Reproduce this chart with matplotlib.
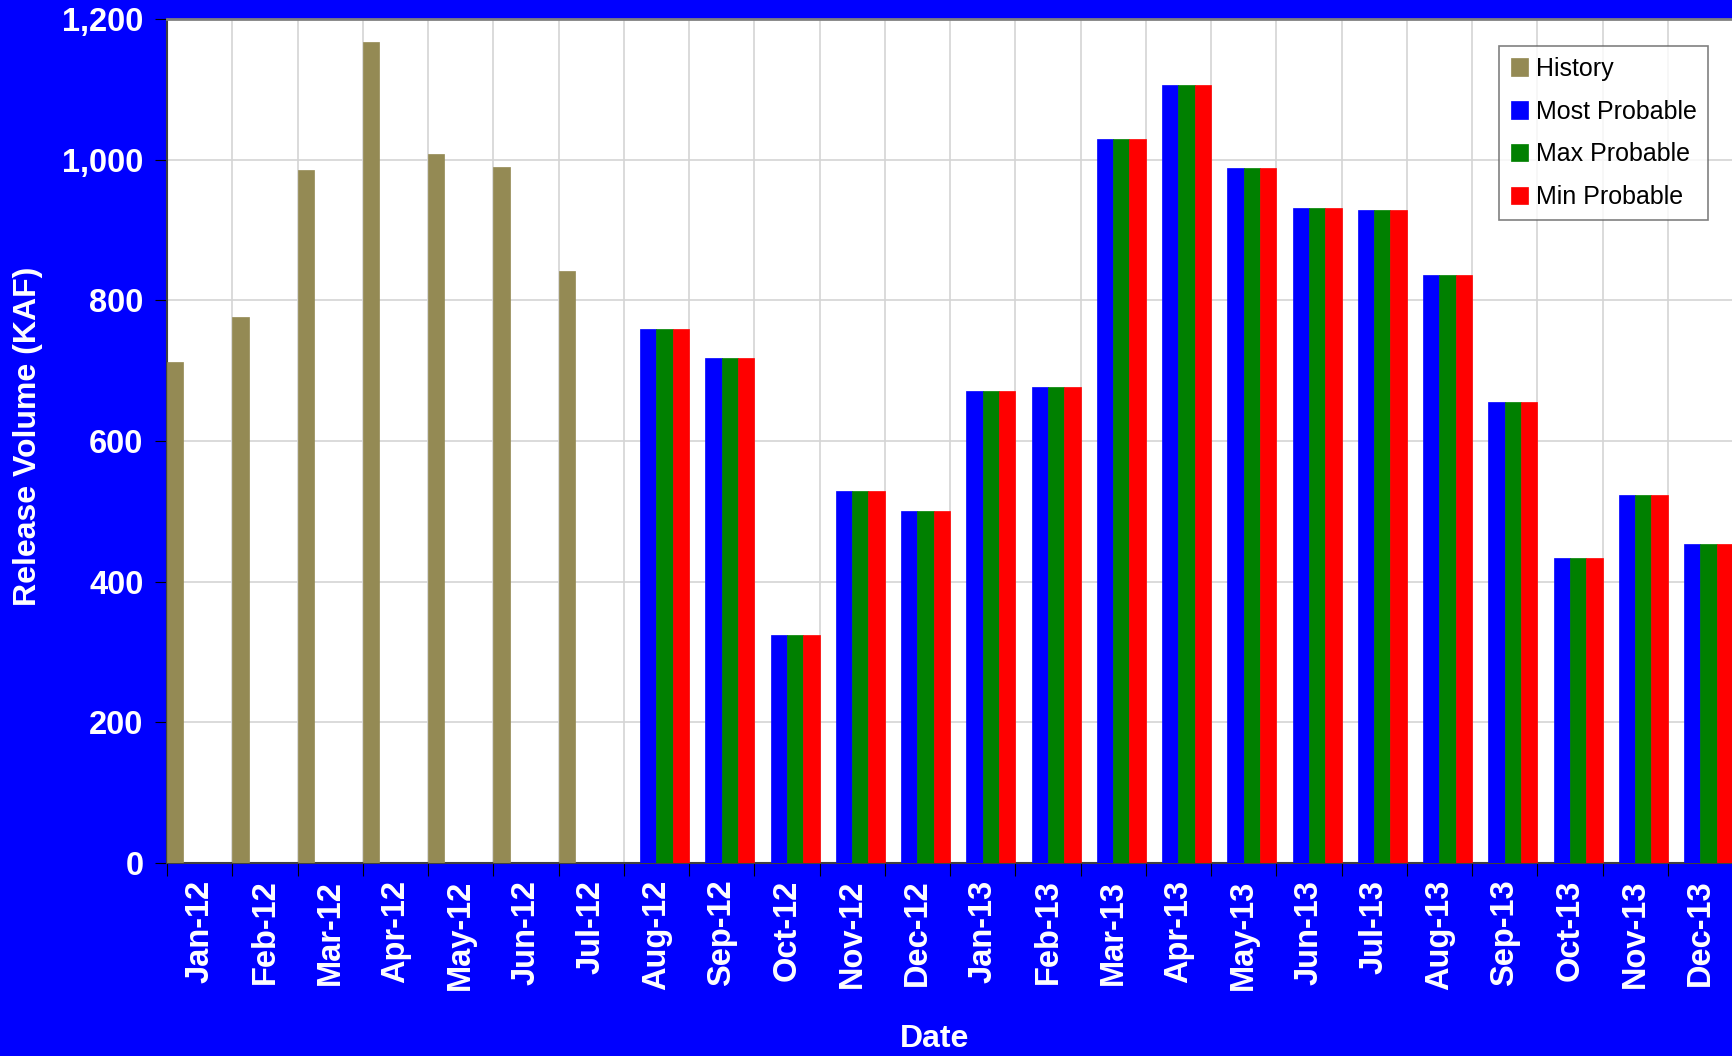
import matplotlib.pyplot as plt
import numpy as np

# monthly release volumes in KAF
months = ['Jan-12', 'Feb-12', 'Mar-12', 'Apr-12', 'May-12', 'Jun-12', 'Jul-12',
          'Aug-12', 'Sep-12', 'Oct-12', 'Nov-12', 'Dec-12',
          'Jan-13', 'Feb-13', 'Mar-13', 'Apr-13', 'May-13', 'Jun-13', 'Jul-13',
          'Aug-13', 'Sep-13', 'Oct-13', 'Nov-13', 'Dec-13']

history = [713, 776, 986, 1168, 1008, 989, 842] + [0] * 17
most_probable = [0] * 7 + [759, 718, 324, 529, 501, 671, 677, 1030, 1106,
                           988, 931, 928, 836, 655, 434, 523, 454]
max_probable = list(most_probable)
min_probable = list(most_probable)

series = [('History', history, '#948A54'),
          ('Most Probable', most_probable, '#0000FF'),
          ('Max Probable', max_probable, '#008000'),
          ('Min Probable', min_probable, '#FF0000')]

plt.rcParams['font.family'] = ['Liberation Sans', 'DejaVu Sans']

fig = plt.figure(figsize=(17.33, 10.56), dpi=100, facecolor='#0000FF')
ax = fig.add_axes([0.0964, 0.1828, 0.9036, 0.7992])
ax.set_facecolor('white')

x = np.arange(len(months))
w = 0.25
for k, (name, vals, col) in enumerate(series):
    ax.bar(x + k * w, vals, width=w, align='edge', color=col, label=name,
           edgecolor=col, linewidth=0.5, zorder=3)

ax.set_xlim(0, len(months))
ax.set_ylim(0, 1200)
ax.set_yticks(np.arange(0, 1201, 200))
ax.set_yticklabels(['{:,}'.format(v) for v in range(0, 1201, 200)])

ax.set_xticks(np.arange(0, len(months) + 1))
ax.set_xticklabels([])
ax.set_xticks(x + 0.5, minor=True)
ax.set_xticklabels(months, minor=True, rotation=90)
ax.tick_params(axis='x', which='minor', length=0, pad=12)
ax.tick_params(axis='x', which='major', length=9, color='black', direction='out')
ax.tick_params(axis='y', length=9, color='black', direction='out', pad=8)

for lab in ax.get_xticklabels(minor=True) + ax.get_yticklabels():
    lab.set_color('white')
    lab.set_fontweight('bold')
    lab.set_fontsize(23.5)

ax.grid(True, which='major', color='#D4D4D4', linewidth=1.2, zorder=0)
ax.set_axisbelow(True)

ax.spines['top'].set_color('#808080')
ax.spines['top'].set_linewidth(2)
ax.spines['right'].set_visible(False)
ax.spines['left'].set_color('#404040')
ax.spines['left'].set_linewidth(1.5)
ax.spines['bottom'].set_color('#404040')
ax.spines['bottom'].set_linewidth(1.5)

fig.text(0.016, 0.587, 'Release Volume (KAF)', rotation=90, color='white',
         fontsize=23, fontweight='bold', ha='center', va='center')
fig.text(0.539, 0.016, 'Date', color='white', fontsize=23,
         fontweight='bold', ha='center', va='center')

leg = ax.legend(loc='upper right', bbox_to_anchor=(0.9838, 0.9686), fontsize=18,
                frameon=True, fancybox=False, edgecolor='#606060',
                handlelength=0.7, handleheight=0.7, handletextpad=0.3,
                borderpad=0.45, labelspacing=0.75, borderaxespad=0)
leg.get_frame().set_linewidth(1.2)
leg.set_zorder(5)

fig.savefig('out.png', dpi=100, facecolor=fig.get_facecolor())
